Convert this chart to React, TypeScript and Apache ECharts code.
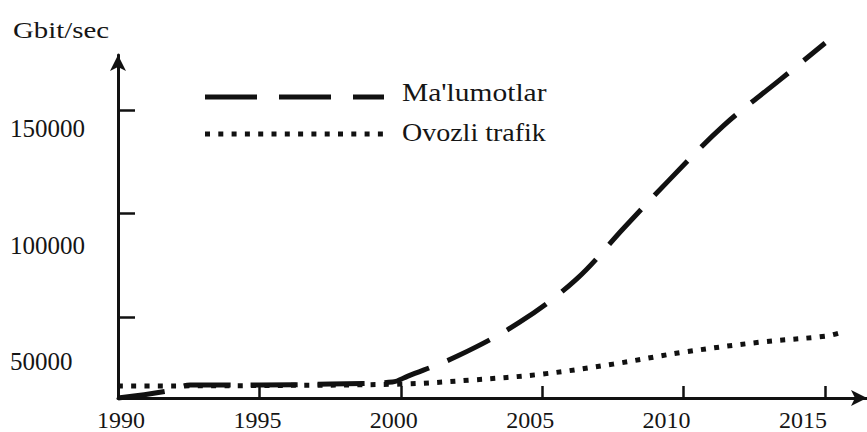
import React, { useEffect, useRef } from "react";
import * as echarts from "echarts";

// Ma'lumotlar (data traffic) — [year, Gbit/sec]
const dataYears = [1990, 1991.73, 1992.55, 1995, 1997.5, 1999.7, 2000.25, 2002, 2004.2, 2006.2, 2007.9, 2009.5, 2011.4, 2013.4, 2015];
const dataValues = [11058, 14423, 17308, 17308, 17788, 18750, 21635, 31250, 47596, 68269, 93269, 116346, 142308, 164423, 182212];

// Ovozli trafik (voice traffic)
const voiceYears = [1990, 1995, 2000, 2002.5, 2005, 2007.5, 2010, 2012.7, 2015, 2015.6];
const voiceValues = [16827, 17067, 17788, 19712, 22596, 27404, 33173, 37981, 40865, 42788];

const xTickYears = [1995, 2000, 2005, 2010, 2015];
const xLabelYears = [1990, 1995, 2000, 2005, 2010, 2015];
const yTickValues = [50000, 100000, 150000];
const yLabelValues = [50000, 100000, 150000];

const seriesNames = ["Ma'lumotlar", "Ovozli trafik"];
const yTitle = "Gbit/sec";

const FONT = "Liberation Serif";
const INK = "#111";
const TXT = "#151515";

export default function App() {
  const ref = useRef<HTMLDivElement>(null);

  useEffect(() => {
    if (!ref.current) return;
    const chart = echarts.init(ref.current, null, { renderer: "svg" });

    const dashed = dataYears.map((y, i) => [y, dataValues[i]]);
    const dotted = voiceYears.map((y, i) => [y, voiceValues[i]]);

    const textEl = (text: string, x: number, y: number, size: number, scaleX: number) => ({
      type: "text",
      x,
      y,
      scaleX,
      style: {
        text,
        x: 0,
        y: 0,
        fontSize: size,
        fontFamily: FONT,
        fill: TXT,
        align: "left",
        textAlign: "left",
        verticalAlign: "middle",
        textVerticalAlign: "middle",
      },
    });

    const option: any = {
      animation: false,
      backgroundColor: "#fff",
      textStyle: { fontFamily: FONT },
      grid: { left: 118, right: 0, top: 55, bottom: 33, containLabel: false },
      xAxis: [
        {
          type: "value",
          position: "bottom",
          min: 1990,
          max: 2016.48,
          interval: 5,
          axisLine: {
            show: true,
            onZero: false,
            symbol: ["none", "arrow"],
            symbolSize: [12, 16],
            lineStyle: { color: INK, width: 3 },
          },
          axisTick: {
            show: true,
            inside: true,
            length: 12,
            customValues: xTickYears,
            lineStyle: { color: INK, width: 2.5 },
          },
          axisLabel: { show: false },
          splitLine: { show: false },
        },
        {
          type: "value",
          position: "bottom",
          min: 1989.89,
          max: 2017.35,
          axisLine: { show: false, onZero: false },
          axisTick: { show: false },
          axisLabel: {
            show: true,
            customValues: xLabelYears,
            margin: 10,
            fontSize: 24,
            fontFamily: FONT,
            color: TXT,
            formatter: (v: number) => String(Math.round(v)),
          },
          splitLine: { show: false },
        },
      ],
      yAxis: [
        {
          type: "value",
          position: "left",
          min: 11058,
          max: 176442,
          axisLine: {
            show: true,
            onZero: false,
            symbol: ["none", "arrow"],
            symbolSize: [12, 16],
            lineStyle: { color: INK, width: 3 },
          },
          axisTick: {
            show: true,
            inside: true,
            length: 17,
            customValues: yTickValues,
            lineStyle: { color: INK, width: 2.5 },
          },
          axisLabel: { show: false },
          splitLine: { show: false },
        },
        {
          type: "value",
          position: "left",
          min: 34368,
          max: 181692,
          axisLine: { show: false, onZero: false },
          axisTick: { show: false },
          axisLabel: {
            show: true,
            customValues: yLabelValues,
            align: "left",
            margin: 108,
            fontSize: 25,
            fontFamily: FONT,
            color: TXT,
            formatter: (v: number) => String(Math.round(v)),
          },
          splitLine: { show: false },
        },
      ],
      series: [
        {
          name: seriesNames[0],
          type: "line",
          xAxisIndex: 0,
          yAxisIndex: 0,
          data: dashed,
          showSymbol: false,
          smooth: 0.35,
          clip: false,
          lineStyle: { color: INK, width: 5, type: [47, 20], cap: "butt" },
        },
        {
          name: seriesNames[1],
          type: "line",
          xAxisIndex: 0,
          yAxisIndex: 0,
          data: dotted,
          showSymbol: false,
          smooth: 0.35,
          clip: false,
          lineStyle: { color: INK, width: 5, type: [5, 8.3], cap: "butt" },
        },
      ],
      graphic: [
        textEl(yTitle, 13, 30, 24, 1.2),
        {
          type: "line",
          shape: { x1: 205, y1: 97, x2: 384, y2: 97 },
          style: { stroke: INK, lineWidth: 5, lineDash: [52, 22] },
        },
        {
          type: "line",
          shape: { x1: 205, y1: 134, x2: 384, y2: 134 },
          style: { stroke: INK, lineWidth: 5, lineDash: [5, 8.3] },
        },
        textEl(seriesNames[0], 402, 93, 25, 1.18),
        textEl(seriesNames[1], 402, 133, 25, 1.12),
      ],
    };

    chart.setOption(option);
    return () => chart.dispose();
  }, []);

  return (
    <div
      ref={ref}
      style={{ position: "fixed", left: 0, top: 0, width: 867, height: 432, background: "#fff" }}
    />
  );
}
